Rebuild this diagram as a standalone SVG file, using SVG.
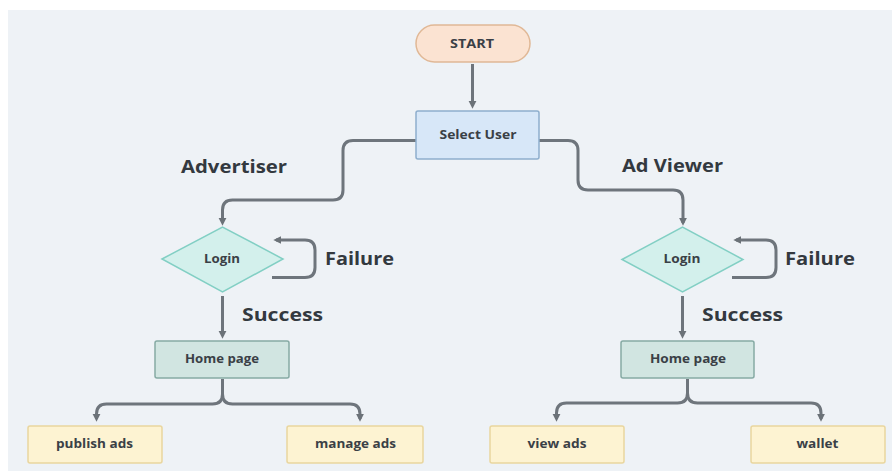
<svg xmlns="http://www.w3.org/2000/svg" width="892" height="471" viewBox="0 0 892 471">
<defs>
<marker id="ah" viewBox="0 0 10 10" refX="6" refY="5" markerWidth="9" markerHeight="9" markerUnits="userSpaceOnUse" orient="auto">
<path d="M0,0.5 L9,5 L0,9.5 z" fill="#6b7278"/>
</marker>
<style>
.bg{fill:#eef2f6}
.con{fill:none;stroke:#6e757c;stroke-width:3;stroke-linejoin:round}
.t{font-family:"Open Sans","Liberation Sans",sans-serif;font-weight:700;fill:#3a4046;text-anchor:middle}
.n{font-size:11.5px}
.lbl{font-family:"Open Sans","Liberation Sans",sans-serif;font-weight:700;fill:#33393f;font-size:17px}
.start{fill:#fbe3d2;stroke:#e0b896;stroke-width:1.5}
.sel{fill:#d7e7f8;stroke:#8eaecd;stroke-width:1.5}
.dia{fill:#d3f0ec;stroke:#82cfc4;stroke-width:1.5}
.home{fill:#d1e5e1;stroke:#86aaa4;stroke-width:1.5}
.leaf{fill:#fdf3d2;stroke:#e9d69f;stroke-width:1.5}
</style>
</defs>
<rect x="0" y="0" width="892" height="471" fill="#ffffff"/>
<rect class="bg" x="8" y="10" width="884" height="461"/>

<g id="connectors">
<path class="con" d="M472.5,64 V106" marker-end="url(#ah)"/>
<path class="con" d="M416,140.5 H353 Q343,140.5 343,150.5 V190 Q343,200 333,200 H232.5 Q222.5,200 222.5,210 V223" marker-end="url(#ah)"/>
<path class="con" d="M539,140.5 H568 Q578,140.5 578,150.5 V180 Q578,190 588,190 H673 Q683,190 683,200 V223" marker-end="url(#ah)"/>
<path class="con" d="M272,277.5 H305 Q315,277.5 315,267.5 V250 Q315,240 305,240 H276" marker-end="url(#ah)"/>
<path class="con" d="M732,277.5 H766 Q776,277.5 776,267.5 V250 Q776,240 766,240 H736" marker-end="url(#ah)"/>
<path class="con" d="M222.5,296 V336" marker-end="url(#ah)"/>
<path class="con" d="M682.5,296 V336" marker-end="url(#ah)"/>
<path class="con" d="M222.5,379 V394 Q222.5,404 212.5,404 H106.5 Q96.5,404 96.5,414 V419" marker-end="url(#ah)"/>
<path class="con" d="M222.5,394 Q222.5,404 232.5,404 H350 Q360,404 360,414 V419" marker-end="url(#ah)"/>
<path class="con" d="M687.5,379 V393 Q687.5,403 677.5,403 H566.5 Q556.5,403 556.5,413 V419" marker-end="url(#ah)"/>
<path class="con" d="M687.5,393 Q687.5,403 697.5,403 H811 Q821,403 821,413 V419" marker-end="url(#ah)"/>
</g>

<g id="start">
<rect class="start" x="416" y="25" width="114" height="37" rx="18.5"/>
<text class="t n" x="472" y="48" textLength="44" lengthAdjust="spacingAndGlyphs">START</text>
</g>
<g id="select-user">
<rect class="sel" x="416" y="111" width="123" height="48" rx="2"/>
<text class="t n" x="478" y="139" textLength="77" lengthAdjust="spacingAndGlyphs">Select User</text>
</g>

<g id="label-advertiser"><text class="lbl" x="181" y="173" textLength="106" lengthAdjust="spacingAndGlyphs">Advertiser</text></g>
<g id="label-adviewer"><text class="lbl" x="622" y="172" textLength="101" lengthAdjust="spacingAndGlyphs">Ad Viewer</text></g>

<g id="login-left">
<polygon class="dia" points="162,259 222.5,227 283,259 222.5,292"/>
<text class="t n" x="222" y="262.5" textLength="36" lengthAdjust="spacingAndGlyphs">Login</text>
</g>
<g id="login-right">
<polygon class="dia" points="622,259.5 682.5,227 743,259.5 682.5,292"/>
<text class="t n" x="682" y="263" textLength="37" lengthAdjust="spacingAndGlyphs">Login</text>
</g>

<g id="label-failure-left"><text class="lbl" x="325" y="265" textLength="69" lengthAdjust="spacingAndGlyphs">Failure</text></g>
<g id="label-failure-right"><text class="lbl" x="785" y="265" textLength="70" lengthAdjust="spacingAndGlyphs">Failure</text></g>
<g id="label-success-left"><text class="lbl" x="242" y="321" textLength="81" lengthAdjust="spacingAndGlyphs">Success</text></g>
<g id="label-success-right"><text class="lbl" x="702" y="321" textLength="81" lengthAdjust="spacingAndGlyphs">Success</text></g>

<g id="home-left">
<rect class="home" x="155" y="341" width="134" height="37" rx="2"/>
<text class="t n" x="222" y="363" textLength="74" lengthAdjust="spacingAndGlyphs">Home page</text>
</g>
<g id="home-right">
<rect class="home" x="621" y="341" width="133" height="37" rx="2"/>
<text class="t n" x="688" y="363" textLength="76" lengthAdjust="spacingAndGlyphs">Home page</text>
</g>

<g id="publish-ads">
<rect class="leaf" x="28" y="426" width="134" height="37" rx="2"/>
<text class="t n" x="94.5" y="448" textLength="77" lengthAdjust="spacingAndGlyphs">publish ads</text>
</g>
<g id="manage-ads">
<rect class="leaf" x="287" y="426" width="136" height="37" rx="2"/>
<text class="t n" x="355.5" y="448" textLength="81" lengthAdjust="spacingAndGlyphs">manage ads</text>
</g>
<g id="view-ads">
<rect class="leaf" x="490" y="426" width="134" height="37" rx="2"/>
<text class="t n" x="557" y="448" textLength="59" lengthAdjust="spacingAndGlyphs">view ads</text>
</g>
<g id="wallet">
<rect class="leaf" x="751" y="426" width="134" height="37" rx="2"/>
<text class="t n" x="817.5" y="448" textLength="42" lengthAdjust="spacingAndGlyphs">wallet</text>
</g>
</svg>
